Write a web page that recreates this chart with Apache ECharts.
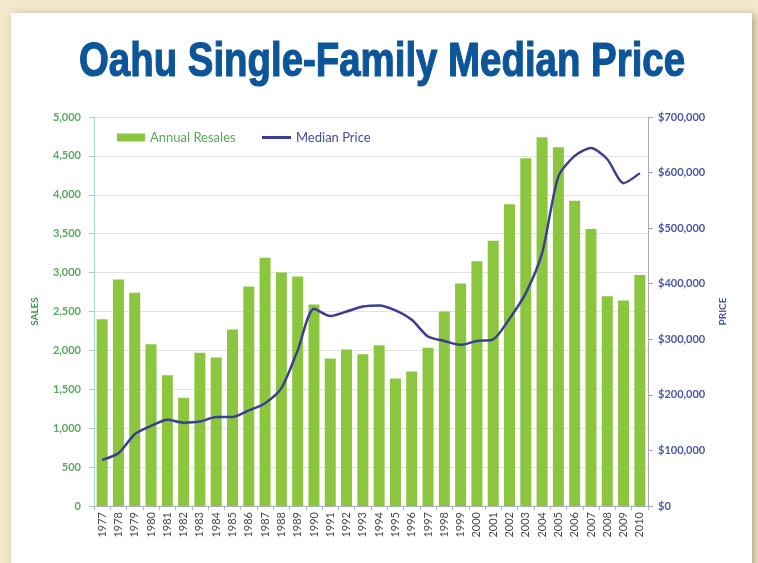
<!DOCTYPE html>
<html>
<head>
<meta charset="utf-8">
<title>Oahu Single-Family Median Price</title>
<script src="https://cdn.jsdelivr.net/npm/echarts@6/dist/echarts.min.js"></script>
<style>
  html, body { margin: 0; padding: 0; background: #f4e8cc; }
  #chart { width: 758px; height: 563px; }
</style>
</head>
<body>
<div id="chart"></div>
<script>
// data
const years = ['1977','1978','1979','1980','1981','1982','1983','1984','1985','1986',
  '1987','1988','1989','1990','1991','1992','1993','1994','1995','1996',
  '1997','1998','1999','2000','2001','2002','2003','2004','2005','2006',
  '2007','2008','2009','2010'];

const annualResales = [2400, 2910, 2740, 2080, 1680, 1390, 1970, 1910, 2270, 2820,
  3190, 3000, 2950, 2590, 1895, 2010, 1950, 2065, 1640, 1730,
  2035, 2500, 2860, 3145, 3410, 3880, 4470, 4740, 4610, 3925,
  3560, 2695, 2640, 2970];

const medianPrice = [83000, 95000, 129000, 144000, 155000, 150000, 152000, 160000, 160000, 172000,
  185000, 212000, 280000, 355000, 342000, 350000, 359000, 361000, 352000, 335000,
  305000, 297000, 290000, 297000, 300000, 337000, 383000, 455000, 593000, 630000,
  644000, 624000, 581000, 599000];

const salesTicks = { min: 0, max: 5000, interval: 500 };
const priceTicks = { min: 0, max: 700000, interval: 100000 };

const chart = echarts.init(document.getElementById('chart'));

const legendText = { fontFamily: 'Lato', fontSize: 13 };

const option = {
  backgroundColor: '#f4e8cc',
  animation: false,
  graphic: [
    {
      type: 'rect',
      z: -10,
      shape: { x: 11, y: 13, width: 741, height: 580 },
      style: { fill: '#ffffff', shadowBlur: 8, shadowOffsetX: 3, shadowOffsetY: 2, shadowColor: 'rgba(90,80,60,0.45)' }
    },
    {
      type: 'text',
      x: 382, y: 63,
      scaleX: 0.8,
      originX: 0, originY: 0,
      style: {
        text: 'Oahu Single-Family Median Price',
        fill: '#0b5598',
        stroke: '#0b5598',
        lineWidth: 1.2,
        font: 'bold 48px "Liberation Sans", Arial, sans-serif',
        align: 'center',
        verticalAlign: 'middle'
      }
    }
  ],
  legend: [
    {
      left: 112,
      top: 126,
      itemWidth: 28,
      itemHeight: 8,
      icon: 'rect',
      textStyle: Object.assign({ color: '#5ba858' }, legendText),
      data: ['Annual Resales']
    },
    {
      left: 257,
      top: 126,
      itemWidth: 29,
      itemHeight: 3,
      icon: 'rect',
      textStyle: Object.assign({ color: '#444a9c' }, legendText),
      data: ['Median Price']
    }
  ],
  grid: { left: 94, right: 110, top: 117, bottom: 57 },
  xAxis: {
    type: 'category',
    data: years,
    axisLine: { lineStyle: { color: '#a8b4b8' } },
    axisTick: { show: true, length: 4, lineStyle: { color: '#a8b4b8' } },
    axisLabel: { rotate: 90, color: '#4a4a4a', fontFamily: 'Lato', fontSize: 11, margin: 6 }
  },
  yAxis: [
    {
      type: 'value',
      min: salesTicks.min, max: salesTicks.max, interval: salesTicks.interval,
      name: 'SALES',
      nameLocation: 'middle',
      nameRotate: 90,
      nameGap: 54,
      nameTextStyle: { color: '#3e9a5a', fontFamily: 'Lato', fontWeight: 'bold', fontSize: 10 },
      axisLine: { show: true, lineStyle: { color: '#a9d9cc' } },
      axisTick: { show: true, length: 5, lineStyle: { color: '#b8c4c4' } },
      axisLabel: {
        color: '#5aa85e', fontFamily: 'Lato', fontWeight: 'bold', fontSize: 11, margin: 13,
        formatter: v => v.toLocaleString('en-US')
      },
      splitLine: { lineStyle: { color: '#e2e2e2' } }
    },
    {
      type: 'value',
      min: priceTicks.min, max: priceTicks.max, interval: priceTicks.interval,
      name: 'PRICE',
      nameLocation: 'middle',
      nameRotate: 90,
      nameGap: 70,
      nameTextStyle: { color: '#4a56a8', fontFamily: 'Lato', fontWeight: 'bold', fontSize: 10 },
      axisLine: { show: true, lineStyle: { color: '#a9a9c9' } },
      axisTick: { show: true, length: 5, lineStyle: { color: '#a9a9c9' } },
      axisLabel: {
        color: '#4a56a8', fontFamily: 'Lato', fontWeight: 'bold', fontSize: 11, margin: 10,
        formatter: v => '$' + v.toLocaleString('en-US')
      },
      splitLine: { show: false }
    }
  ],
  series: [
    {
      name: 'Annual Resales',
      type: 'bar',
      data: annualResales,
      barWidth: 11,
      itemStyle: { color: '#8cc63f' }
    },
    {
      name: 'Median Price',
      type: 'line',
      yAxisIndex: 1,
      data: medianPrice,
      smooth: 0.25,
      showSymbol: false,
      symbol: 'none',
      lineStyle: { color: '#3b3e92', width: 2.5 },
      itemStyle: { color: '#3b3e92' }
    }
  ]
};

chart.setOption(option);
</script>
</body>
</html>
